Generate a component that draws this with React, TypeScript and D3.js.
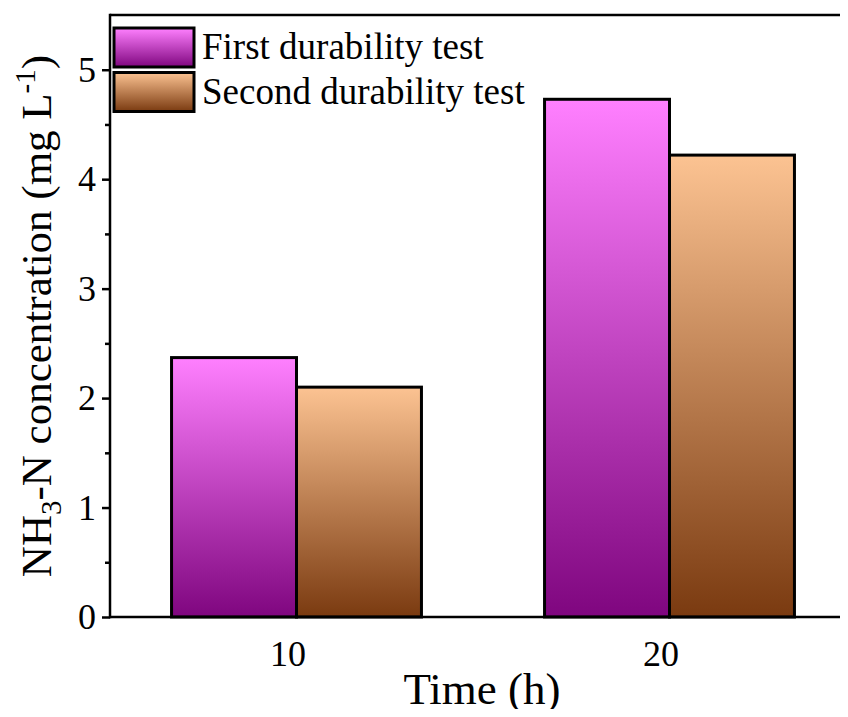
import React, { useEffect, useRef } from "react";
import * as d3 from "d3";

const times = [10, 20];
const firstTest = [2.37, 4.73];
const secondTest = [2.1, 4.22];
const seriesNames = ["First durability test", "Second durability test"];
const yTicks = [0, 1, 2, 3, 4, 5];

const W = 848;
const H = 717;
const FONT = "'Liberation Serif', 'Times New Roman', serif";

export default function App() {
  const ref = useRef<SVGSVGElement>(null);

  useEffect(() => {
    const svg = d3.select(ref.current);
    svg.selectAll("*").remove();

    const margin = { left: 110, top: 15, right: -8, bottom: 100 };
    const x = d3.scaleLinear().domain([5, 25]).range([margin.left, W - margin.right]);
    const y = d3.scaleLinear().domain([0, 5.5]).range([H - margin.bottom, margin.top]);

    const defs = svg.append("defs");
    const grads = [
      { id: "g1", top: "#ff80ff", bottom: "#7f067f" },
      { id: "g2", top: "#fcc392", bottom: "#7a3a10" },
    ];
    grads.forEach((g) => {
      const lg = defs.append("linearGradient").attr("id", g.id)
        .attr("x1", 0).attr("y1", 0).attr("x2", 0).attr("y2", 1);
      lg.append("stop").attr("offset", "0%").attr("stop-color", g.top);
      lg.append("stop").attr("offset", "100%").attr("stop-color", g.bottom);
    });

    svg.append("rect").attr("width", W).attr("height", H).attr("fill", "#fff");

    // bars
    const barW = 3.35;
    const series = [firstTest, secondTest];
    series.forEach((vals, si) => {
      svg.append("g").selectAll("rect")
        .data(vals)
        .enter()
        .append("rect")
        .attr("x", (d, i) => x(times[i] + (si === 0 ? -barW : 0)))
        .attr("width", x(barW) - x(0))
        .attr("y", (d) => y(d))
        .attr("height", (d) => y(0) - y(d))
        .attr("fill", `url(#${grads[si].id})`)
        .attr("stroke", "#000")
        .attr("stroke-width", 3);
    });

    // axes
    const yAxis = d3.axisLeft(y).tickValues(yTicks).tickSize(8).tickFormat(d3.format("d"));
    const gy = svg.append("g").attr("transform", `translate(${margin.left},0)`).call(yAxis);
    gy.select(".domain").remove();
    gy.selectAll("line").attr("stroke-width", 2.5);
    gy.selectAll("text").attr("font-family", FONT).attr("font-size", 36).attr("dx", -3);

    const gyMinor = svg.append("g").attr("transform", `translate(${margin.left},0)`)
      .call(d3.axisLeft(y).tickValues([0.5, 1.5, 2.5, 3.5, 4.5]).tickSize(5).tickFormat(() => ""));
    gyMinor.select(".domain").remove();
    gyMinor.selectAll("line").attr("stroke-width", 2.5);

    const xAxis = d3.axisBottom(x).tickValues(times).tickSize(0).tickFormat(d3.format("d"));
    const gx = svg.append("g").attr("transform", `translate(0,${y(0)})`).call(xAxis);
    gx.select(".domain").remove();
    gx.selectAll("text").attr("font-family", FONT).attr("font-size", 36)
      .attr("dy", 0).attr("y", 49).attr("dx", -9);

    // frame lines
    svg.append("line").attr("x1", margin.left).attr("x2", W).attr("y1", y(0)).attr("y2", y(0))
      .attr("stroke", "#000").attr("stroke-width", 2.5);
    svg.append("line").attr("x1", margin.left).attr("x2", W).attr("y1", y(5.5)).attr("y2", y(5.5))
      .attr("stroke", "#000").attr("stroke-width", 2.5);
    svg.append("line").attr("x1", margin.left).attr("x2", margin.left).attr("y1", y(5.5) - 1.25).attr("y2", y(0) + 1.25)
      .attr("stroke", "#000").attr("stroke-width", 2.5);

    // axis titles
    svg.append("text").attr("x", 482).attr("y", 704)
      .attr("text-anchor", "middle").attr("font-family", FONT).attr("font-size", 45)
      .text("Time (h)");

    const yt = svg.append("text")
      .attr("transform", `translate(51,316) rotate(-90)`)
      .attr("text-anchor", "middle").attr("font-family", FONT).attr("font-size", 43);
    yt.append("tspan").text("NH");
    yt.append("tspan").attr("font-size", 29).attr("dy", 10).text("3");
    yt.append("tspan").attr("dy", -10).text("-N concentration (mg L");
    yt.append("tspan").attr("font-size", 29).attr("dy", -16).text("-1");
    yt.append("tspan").attr("dy", 16).text(")");

    // legend
    const leg = svg.append("g");
    seriesNames.forEach((name, i) => {
      const ly = 28 + i * 44.5;
      leg.append("rect").attr("x", 114).attr("y", ly).attr("width", 80).attr("height", 39)
        .attr("fill", `url(#${grads[i].id})`).attr("stroke", "#000").attr("stroke-width", 3);
      leg.append("text").attr("x", 202).attr("y", ly + 31)
        .attr("font-family", FONT).attr("font-size", 37).text(name);
    });
  }, []);

  return <svg ref={ref} width={W} height={H} style={{ display: "block", margin: "-8px" }} />;
}
